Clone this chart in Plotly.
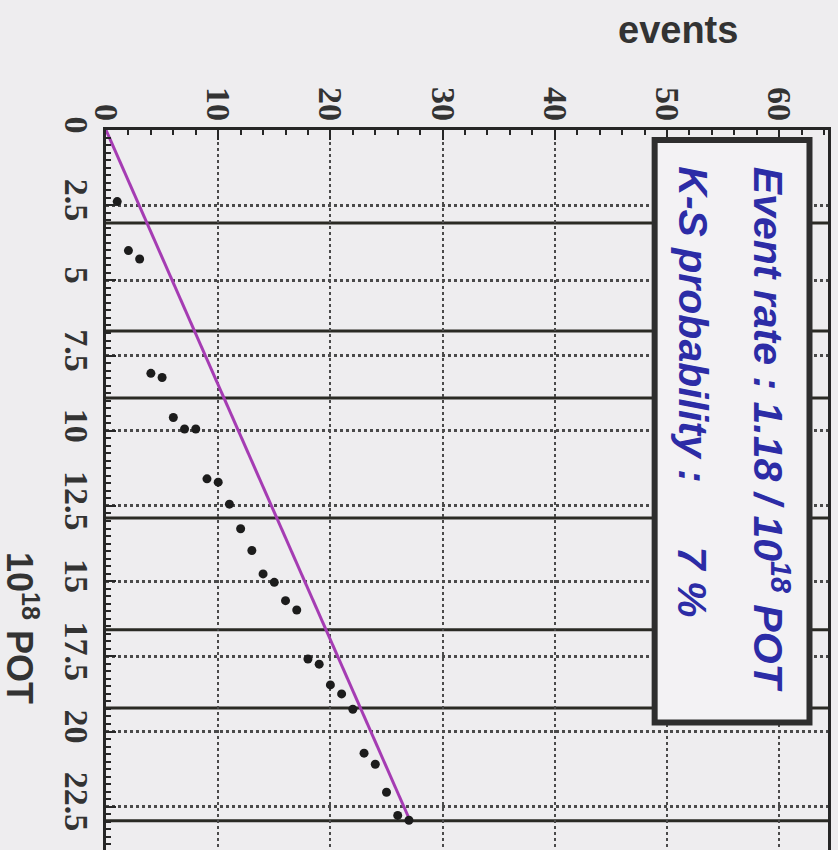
import plotly.graph_objects as go

# Cumulative event count versus integrated protons on target (10^18 POT)
event_number = list(range(1, 28))
pot_at_event = [2.38, 4.01, 4.29, 8.09, 8.23, 9.56, 9.94, 9.94, 11.60, 11.71,
                12.44, 13.26, 13.98, 14.76, 15.04, 15.65, 15.96, 17.59, 17.76,
                18.45, 18.75, 19.26, 20.72, 21.09, 22.02, 22.79, 22.95]

event_rate = 1.18          # events per 10^18 POT
ks_probability = 7         # percent

# Run-period boundaries (10^18 POT)
boundary_pot = [3.09, 6.68, 8.91, 12.90, 16.62, 19.22, 22.97]

pot_ticks = [0, 2.5, 5, 7.5, 10, 12.5, 15, 17.5, 20, 22.5]
pot_tick_text = ["0", "2.5", "5", "7.5", "10", "12.5", "15", "17.5", "20", "22.5"]
event_ticks = [0, 10, 20, 30, 40, 50, 60]

W, H = 838, 850
BG = "#eeedef"
INK = "#262626"
TEXT_BLUE = "#2c2ca6"

fig = go.Figure()

# expected cumulative count for a constant rate
fit_pot = [0, pot_at_event[-1]]
fit_events = [event_rate * p for p in fit_pot]
fig.add_trace(go.Scatter(x=fit_events, y=fit_pot, mode="lines",
                         line=dict(color="#a53cb3", width=3),
                         hoverinfo="skip", showlegend=False))

fig.add_trace(go.Scatter(x=event_number, y=pot_at_event, mode="markers",
                         marker=dict(color="#1c1c1c", size=9),
                         showlegend=False))

shapes = []
for b in boundary_pot:
    shapes.append(dict(type="line", xref="x domain", yref="y",
                       x0=0, x1=1, y0=b, y1=b, layer="below",
                       line=dict(color="#2a2a24", width=3)))

# stats box
shapes.append(dict(type="rect", xref="x", yref="y",
                   x0=48.9, x1=62.7, y0=0.33, y1=19.7, layer="above",
                   fillcolor="#f3f2f4", line=dict(color="#2e2e2e", width=6)))

box_font = dict(family="Liberation Sans", size=41, color=TEXT_BLUE,
                weight="bold", style="italic")

annotations = [
    dict(text="Event rate : %.2f / 10<sup>18</sup> POT" % event_rate,
         x=59.3, y=1.15, xref="x", yref="y", textangle=90,
         xanchor="center", yanchor="top", showarrow=False, font=box_font),
    dict(text="K-S probability :",
         x=52.3, y=1.15, xref="x", yref="y", textangle=90,
         xanchor="center", yanchor="top", showarrow=False, font=box_font),
    dict(text="%d %%" % ks_probability,
         x=52.3, y=13.8, xref="x", yref="y", textangle=90,
         xanchor="center", yanchor="top", showarrow=False, font=box_font),
]

# axis titles, positioned in pixels from the top-left corner of the page
L, R, T, B = 106, 10, 130, 0
pw, ph = W - L - R, H - T - B


def px_to_paper(px, py):
    return (px - L) / pw, (H - py - B) / ph


ex, ey = px_to_paper(678, 30)
annotations.append(dict(text="events", x=ex, y=ey, xref="paper", yref="paper",
                        showarrow=False, xanchor="center", yanchor="middle",
                        font=dict(family="Liberation Sans", size=38,
                                  color="#333333", weight="bold")))
tx, ty = px_to_paper(22, 628)
annotations.append(dict(text="10<sup>18</sup> POT", x=tx, y=ty,
                        xref="paper", yref="paper", showarrow=False,
                        textangle=90, xanchor="center", yanchor="middle",
                        font=dict(family="Liberation Sans", size=36,
                                  color="#333333", weight="bold")))

fig.update_layout(
    width=W, height=H,
    margin=dict(l=L, r=R, t=T, b=B, pad=0),
    paper_bgcolor=BG, plot_bgcolor=BG,
    shapes=shapes, annotations=annotations,
    showlegend=False,
)

tick_font = dict(family="Liberation Serif", size=34, color="#333333", weight="bold")

fig.update_xaxes(
    range=[0, 64.35], side="top",
    tickvals=event_ticks, ticktext=[str(v) for v in event_ticks],
    tickangle=90, tickfont=tick_font,
    ticks="inside", ticklen=10, tickwidth=2, tickcolor=INK,
    minor=dict(dtick=2, ticks="inside", ticklen=5, tickwidth=2, tickcolor=INK,
               showgrid=False),
    showline=True, linecolor=INK, linewidth=3,
    showgrid=True, gridcolor="#4a4a4a", gridwidth=1.5, griddash="dot",
    zeroline=False, ticklabelstandoff=-6,
)

fig.update_yaxes(
    range=[23.94, 0],
    tickvals=pot_ticks, ticktext=pot_tick_text,
    tickangle=90, tickfont=tick_font,
    ticks="inside", ticklen=10, tickwidth=2, tickcolor=INK,
    minor=dict(dtick=0.25, ticks="inside", ticklen=5, tickwidth=2, tickcolor=INK,
               showgrid=False),
    showline=True, linecolor=INK, linewidth=3, mirror=True,
    showgrid=True, gridcolor="#4a4a4a", gridwidth=3, griddash="dot",
    zeroline=False, ticklabelstandoff=-3,
)

fig.write_html("out.html")
